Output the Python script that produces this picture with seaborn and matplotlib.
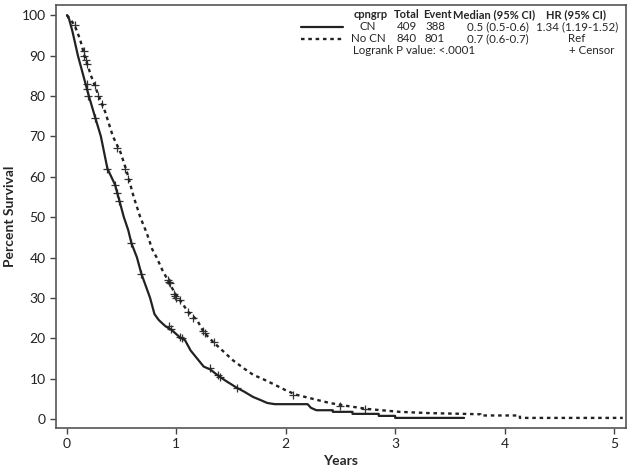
import pandas as pd
import seaborn as sns
import matplotlib.pyplot as plt
from matplotlib.lines import Line2D

# Kaplan-Meier curves
cn_time = [0, 0.02, 0.05, 0.10, 0.15, 0.20, 0.26, 0.31, 0.37, 0.44, 0.48, 0.52, 0.56, 0.59, 0.64,
           0.68, 0.72, 0.76, 0.80, 0.84, 0.90, 0.96, 1.03, 1.08, 1.13, 1.19, 1.25, 1.31, 1.38, 1.45,
           1.55, 1.62, 1.70, 1.78, 1.83, 1.90, 2.20, 2.23, 2.28, 2.43, 2.43, 2.61, 2.61, 2.85, 2.85,
           3.00, 3.00, 3.63]
cn_surv = [100, 99, 96, 90, 85, 80, 74.5, 70, 62, 58, 54, 50, 46.8, 43.5, 40,
           36, 33, 30, 26, 24.5, 23, 22, 20.3, 19.5, 17, 15, 13, 12.3, 10.8, 9.5,
           7.8, 6.8, 5.5, 4.6, 4.0, 3.7, 3.7, 2.8, 2.2, 2.2, 1.8, 1.8, 1.3, 1.3, 0.8,
           0.8, 0.3, 0.3]

nocn_time = [0, 0.03, 0.07, 0.12, 0.16, 0.22, 0.29, 0.35, 0.42, 0.49, 0.55, 0.61, 0.67, 0.73, 0.78,
             0.82, 0.87, 0.93, 0.99, 1.03, 1.11, 1.19, 1.25, 1.34, 1.42, 1.52, 1.62, 1.70, 1.80, 1.90,
             2.01, 2.10, 2.25, 2.40, 2.55, 2.75, 3.04, 3.30, 3.78, 3.78, 4.14, 4.14, 5.08]
nocn_surv = [100, 99, 97.5, 94, 90, 85, 80, 76, 70, 66, 61, 55, 50, 46, 42,
             40, 37, 34, 31, 29.5, 26.5, 24.5, 21.5, 19, 17, 14.5, 12.5, 11, 9.8, 8.5,
             7, 6, 5, 4, 3.3, 2.5, 1.8, 1.5, 1.2, 0.9, 0.9, 0.3, 0.3]

# censor marks
cn_cens_t = [0.18, 0.18, 0.19, 0.26, 0.37, 0.44, 0.46, 0.48, 0.59, 0.68, 0.93, 0.95, 1.03, 1.05,
             1.31, 1.38, 1.40, 1.55]
cn_cens_s = [83, 81.7, 80, 74.5, 62, 58, 56, 54, 43.5, 36, 23, 22.3, 20.3, 20,
             12.6, 10.8, 10.5, 7.6]
nocn_cens_t = [0.07, 0.16, 0.16, 0.17, 0.18, 0.26, 0.28, 0.32, 0.46, 0.53, 0.56, 0.92, 0.93, 0.94,
               0.98, 0.99, 1.00, 1.03, 1.11, 1.15, 1.24, 1.26, 1.34, 2.07, 2.50, 2.72]
nocn_cens_s = [97.5, 91, 90, 89, 88, 82.7, 80, 78, 67, 62, 59.4, 34.5, 34, 33.6,
               31, 30.5, 30, 29.5, 26.5, 25, 21.8, 21.3, 19, 6, 3.2, 2.5]

header = ["cpngrp", "Total", "Event", "Median (95% CI)", "HR (95% CI)"]
row_cn = ["CN", "409", "388", "0.5 (0.5-0.6)", "1.34 (1.19-1.52)"]
row_nocn = ["No CN", "840", "801", "0.7 (0.6-0.7)", "Ref"]

sns.set_theme(style="ticks")
plt.rcParams['font.family'] = ['Lato', 'DejaVu Sans']

W, H = 632, 467
fig = plt.figure(figsize=(W / 100, H / 100), dpi=100)
ax = fig.add_axes([56 / W, 1 - 428 / H, 570 / W, 423 / H])

col = "#222222"
sns.lineplot(x=cn_time, y=cn_surv, ax=ax, estimator=None, sort=False,
             color=col, linewidth=1.6)
sns.lineplot(x=nocn_time, y=nocn_surv, ax=ax, estimator=None, sort=False,
             color=col, linewidth=1.7, linestyle=(0, (1.5, 1.6)))
sns.scatterplot(x=cn_cens_t, y=cn_cens_s, ax=ax, marker='+', s=40, color="#333333", linewidth=0.9)
sns.scatterplot(x=nocn_cens_t, y=nocn_cens_s, ax=ax, marker='+', s=40, color="#333333", linewidth=0.9)

ax.set_xlim(-0.1, 5.11)
ax.set_ylim(-2.2, 102.5)
ax.set_xticks(range(0, 6))
ax.set_yticks(range(0, 101, 10))
ax.tick_params(labelsize=10, length=4, width=1, color="#444444", labelcolor="#222222")
for s in ax.spines.values():
    s.set_color("#555555")
    s.set_linewidth(1.2)
ax.set_xlabel("Years", fontsize=10, fontweight="bold", labelpad=3)
ax.set_ylabel("Percent Survival", fontsize=10, fontweight="bold", labelpad=4)

# legend table
def fx(px):
    return px / W

def fy(py):
    return 1 - py / H

head_x = [371, 407, 437, 494, 576]
row_x = [368, 407, 435, 467, 577]
row_ha = ["center", "center", "center", "left", "center"]
for x, h in zip(head_x, header):
    fig.text(fx(x), fy(15), h, ha="center", va="center", fontsize=8, fontweight="bold")
for x, v, a in zip(row_x, row_cn, row_ha):
    fig.text(fx(x), fy(27), v, ha=a, va="center", fontsize=8.3)
for x, v, a in zip(row_x, row_nocn, row_ha):
    fig.text(fx(x), fy(39), v, ha=a, va="center", fontsize=8.3)
fig.text(fx(353), fy(51), "Logrank P value: <.0001", ha="left", va="center", fontsize=8.3)
fig.text(fx(614), fy(51), "+ Censor", ha="right", va="center", fontsize=8.3)
fig.add_artist(Line2D([fx(301), fx(343)], [fy(27), fy(27)], color=col, linewidth=1.6))
fig.add_artist(Line2D([fx(301), fx(343)], [fy(39), fy(39)], color=col, linewidth=1.7,
                      linestyle=(0, (1.5, 1.6))))

fig.savefig("out.png", dpi=100)
